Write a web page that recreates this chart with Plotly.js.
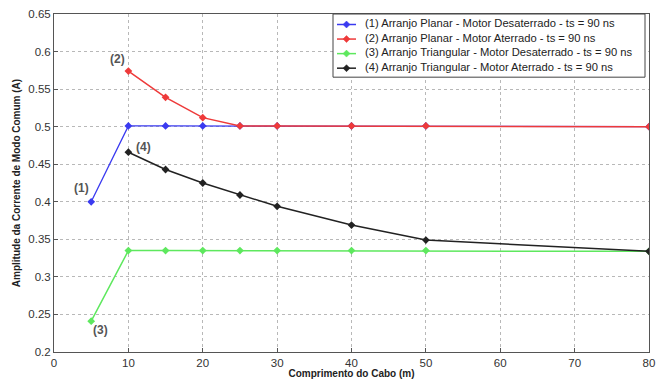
<!DOCTYPE html>
<html>
<head>
<meta charset="utf-8">
<script src="https://cdn.plot.ly/plotly-3.0.1.min.js"></script>
<style>html,body{margin:0;padding:0;background:#fff;}#chart{width:661px;height:379px;}</style>
</head>
<body>
<div id="chart"></div>
<script>
// Data
var lengths = [5, 10, 15, 20, 25, 30, 40, 50, 80];
var lengthsFrom10 = [10, 15, 20, 25, 30, 40, 50, 80];
var planarUngrounded = [0.400, 0.501, 0.501, 0.501, 0.501, 0.501, 0.501, 0.501, 0.500];
var planarGrounded = [0.574, 0.539, 0.512, 0.501, 0.501, 0.501, 0.501, 0.500];
var triUngrounded = [0.241, 0.335, 0.335, 0.335, 0.335, 0.335, 0.335, 0.335, 0.334];
var triGrounded = [0.466, 0.443, 0.425, 0.409, 0.394, 0.369, 0.349, 0.334];
var seriesNames = [
  "(1) Arranjo Planar - Motor Desaterrado - ts = 90 ns",
  "(2) Arranjo Planar - Motor Aterrado - ts = 90 ns",
  "(3) Arranjo Triangular - Motor Desaterrado - ts = 90 ns",
  "(4) Arranjo Triangular - Motor Aterrado - ts = 90 ns"
];
var labelTexts = ["(1)", "(2)", "(3)", "(4)"];
var labelX = [3.7, 8.5, 6.3, 12.0];
var labelY = [0.418, 0.590, 0.229, 0.473];
var xTicks = [0, 10, 20, 30, 40, 50, 60, 70, 80];
var yTicks = [0.2, 0.25, 0.3, 0.35, 0.4, 0.45, 0.5, 0.55, 0.6, 0.65];
var yTickText = ["0.2", "0.25", "0.3", "0.35", "0.4", "0.45", "0.5", "0.55", "0.6", "0.65"];

var FONT = "Arial, Liberation Sans, sans-serif";
var colors = ["#3a3af0", "#ee3a3a", "#5ee85e", "#222222"];
function tr(x, y, i, w) {
  return {
    x: x, y: y, name: seriesNames[i], type: "scatter", mode: "lines+markers",
    line: {color: colors[i], width: w},
    marker: {symbol: "diamond", size: 6, color: colors[i]}
  };
}
var data = [
  tr(lengths, planarUngrounded, 0, 1.3),
  tr(lengthsFrom10, planarGrounded, 1, 1.5),
  tr(lengths, triUngrounded, 2, 1.5),
  tr(lengthsFrom10, triGrounded, 3, 1.5)
];

var annotations = labelTexts.map(function (t, i) {
  return {x: labelX[i], y: labelY[i], text: "<b>" + t + "</b>", showarrow: false,
    font: {family: FONT, size: 12, color: "#555"}};
});

// Custom compact legend (MATLAB style) in paper coordinates
var plotH = 379 - 14 - 27, plotW = 661 - 54 - 12;
function px2x(px) { return (px - 54) / plotW; }
function py2y(py) { return 1 - (py - 14) / plotH; }
var legFont = 11.2, rowH = legFont * 1.3, firstRow = 24.5;
var shapes = [{
  type: "rect", xref: "paper", yref: "paper",
  x0: px2x(333), x1: px2x(645), y0: py2y(firstRow + 3 * rowH + 9), y1: py2y(14),
  line: {color: "#444", width: 1}, fillcolor: "#fff", layer: "above"
}];
seriesNames.forEach(function (name, i) {
  var ry = firstRow + i * rowH;
  shapes.push({type: "line", xref: "paper", yref: "paper",
    x0: px2x(337), x1: px2x(356), y0: py2y(ry), y1: py2y(ry),
    line: {color: colors[i], width: 1.5}, layer: "above"});
  shapes.push({type: "path", xref: "paper", yref: "paper", layer: "above",
    path: "M" + px2x(346.5) + "," + py2y(ry - 3.5) + " L" + px2x(350) + "," + py2y(ry) +
          " L" + px2x(346.5) + "," + py2y(ry + 3.5) + " L" + px2x(343) + "," + py2y(ry) + " Z",
    fillcolor: colors[i], line: {color: colors[i], width: 0.5}});
});
annotations.push({xref: "paper", yref: "paper", x: px2x(364), y: py2y(firstRow - rowH / 2 - 1),
  text: seriesNames.join("<br>"), showarrow: false, xanchor: "left", yanchor: "top",
  align: "left", borderpad: 0,
  font: {family: FONT, size: legFont, color: "#222"}});

var axisCommon = {
  showline: true, mirror: true, linecolor: "#555", linewidth: 1,
  showgrid: true, gridcolor: "#b8b8b8", griddash: "dot", gridwidth: 1,
  zeroline: false, ticks: "inside", ticklen: 4, tickcolor: "#555",
  tickfont: {family: FONT, size: 11.5, color: "#333"}
};

var layout = {
  width: 661, height: 379,
  margin: {l: 54, r: 12, t: 14, b: 27},
  paper_bgcolor: "#fff", plot_bgcolor: "#fff",
  showlegend: false,
  xaxis: Object.assign({}, axisCommon, {
    range: [0, 80], tickvals: xTicks,
    title: {text: "<b>Comprimento do Cabo (m)</b>", standoff: 3,
      font: {family: FONT, size: 10, color: "#222"}}
  }),
  yaxis: Object.assign({}, axisCommon, {
    range: [0.2, 0.65], tickvals: yTicks, ticktext: yTickText,
    title: {text: "<b>Amplitude da Corrente de Modo Comum (A)</b>", standoff: 5,
      font: {family: FONT, size: 10, color: "#222"}}
  }),
  shapes: shapes,
  annotations: annotations
};

Plotly.newPlot("chart", data, layout, {displayModeBar: false, staticPlot: true});
</script>
</body>
</html>
